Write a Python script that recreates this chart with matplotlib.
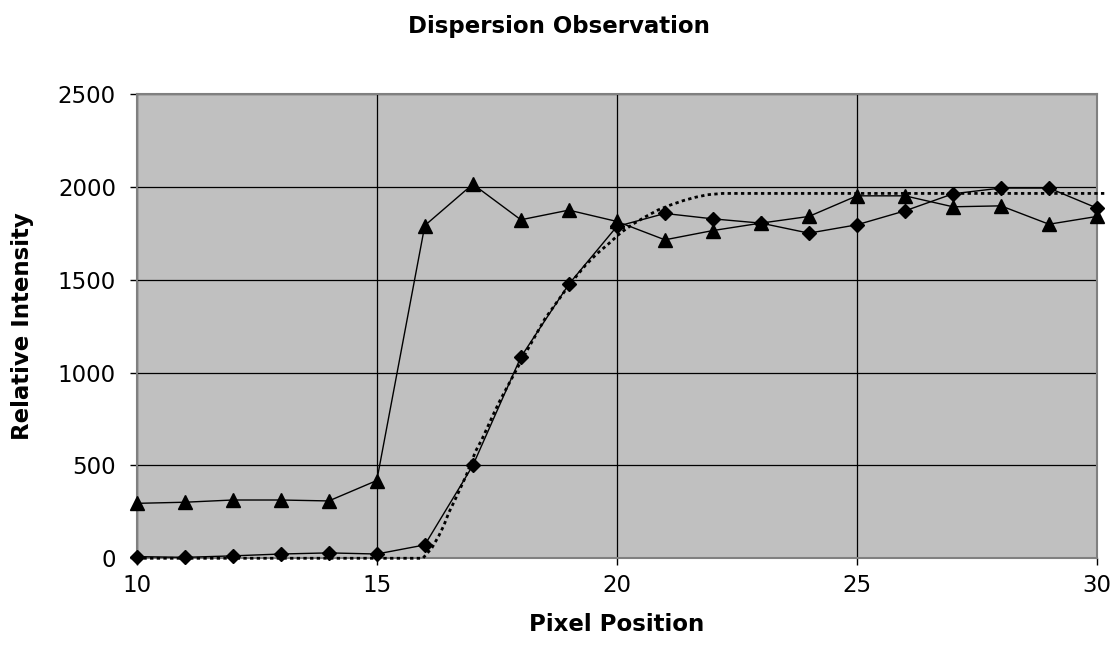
import matplotlib
matplotlib.use("Agg")
import matplotlib.pyplot as plt

plt.rcParams['font.family'] = ['DejaVu Sans']

# Measured intensity profiles along the detector row
pixel = [10, 11, 12, 13, 14, 15, 16, 17, 18, 19, 20,
         21, 22, 23, 24, 25, 26, 27, 28, 29, 30]
profile_a = [9, 5, 13, 23, 29, 23, 72, 500, 1084, 1477, 1788,
             1858, 1829, 1806, 1752, 1797, 1872, 1964, 1995, 1995, 1887]
profile_b = [296, 302, 314, 314, 309, 419, 1793, 2016, 1824, 1876, 1815,
             1716, 1766, 1806, 1842, 1953, 1953, 1894, 1899, 1800, 1842]

# Fitted dispersion model curve
fit_x = [10, 15.96, 16.15, 16.29, 16.40, 16.50, 16.62, 16.74, 16.86, 17.06,
         17.19, 17.31, 17.43, 17.55, 17.67, 18.0, 18.5, 19.0, 19.16, 19.35,
         19.58, 19.82, 20.08, 20.33, 20.60, 20.86, 21.12, 21.38, 21.63, 21.89,
         22.2, 30.2]
fit_y = [0, 0, 57, 120, 179, 246, 310, 377, 445, 578,
         641, 709, 777, 842, 901, 1060, 1290, 1470, 1521, 1580,
         1640, 1693, 1754, 1800, 1841, 1877, 1904, 1927, 1945, 1959,
         1966, 1966]

fig = plt.figure(figsize=(11.17, 6.61), dpi=100)
ax = fig.add_axes([0.1224, 0.1554, 0.8597, 0.7019])
ax.set_facecolor('#C0C0C0')

ax.plot(fit_x, fit_y, color='black', lw=2.0, linestyle=(0, (1.2, 1.2)),
        zorder=3, clip_on=False)
ax.plot(pixel, profile_a, color='black', lw=1.0, marker='D', ms=7.5,
        zorder=4, clip_on=False)
ax.plot(pixel, profile_b, color='black', lw=1.0, marker='^', ms=9.5,
        zorder=4, clip_on=False)

ax.set_xlim(10, 30)
ax.set_ylim(0, 2500)
ax.set_xticks([10, 15, 20, 25, 30])
ax.set_yticks([0, 500, 1000, 1500, 2000, 2500])

ax.grid(True, color='black', lw=0.9, zorder=1)
ax.set_axisbelow(True)
for s in ax.spines.values():
    s.set_color('#808080')
    s.set_linewidth(1.5)

ax.tick_params(axis='both', labelsize=16.5, colors='black', length=5,
               width=1.0, direction='out')
ax.tick_params(axis='x', pad=6)
ax.tick_params(axis='y', pad=10)

fig.text(0.5, 1 - 27 / 661, 'Dispersion Observation', fontsize=16.5,
         fontweight='bold', ha='center', va='center')
ax.set_xlabel('Pixel Position', fontsize=16.5, fontweight='bold', labelpad=12)
ax.set_ylabel('Relative Intensity', fontsize=16.5, fontweight='bold', labelpad=17)

fig.savefig('out.png', dpi=100, facecolor='white')
